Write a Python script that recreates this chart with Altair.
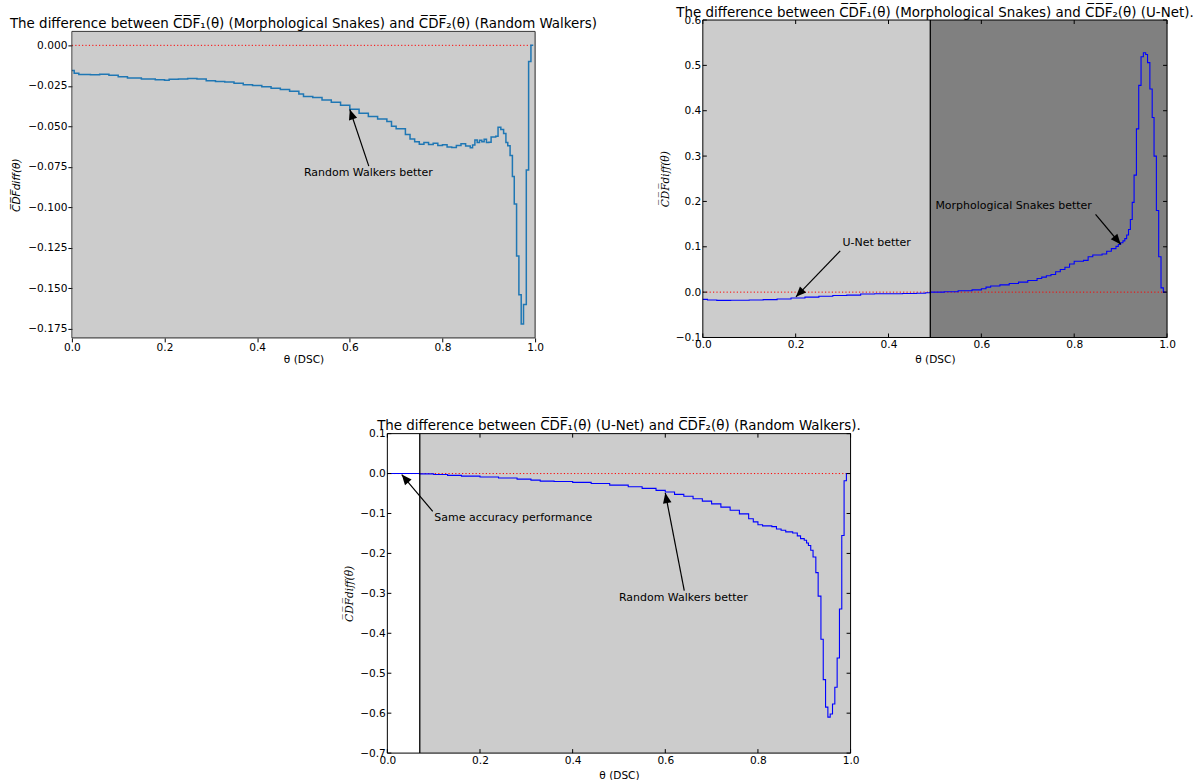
import numpy as np
import pandas as pd
import altair as alt

FONT = "DejaVu Sans"
SERIF = "DejaVu Serif"

# ---------------- data ----------------
# Panel A: Morphological Snakes vs Random Walkers
a_theta = [0.000, 0.005, 0.015, 0.040, 0.060, 0.080, 0.100, 0.120, 0.150, 0.180,
           0.200, 0.210, 0.230, 0.250, 0.270, 0.290, 0.310, 0.330, 0.350, 0.370,
           0.390, 0.410, 0.430, 0.450, 0.470, 0.490, 0.500, 0.520, 0.540, 0.560,
           0.580, 0.600, 0.620, 0.640, 0.660, 0.680, 0.690, 0.700, 0.720, 0.730,
           0.740, 0.750, 0.760, 0.770, 0.780, 0.790, 0.800, 0.810, 0.820, 0.830,
           0.840, 0.850, 0.860, 0.865, 0.870, 0.875, 0.880, 0.885, 0.890, 0.895,
           0.900, 0.905, 0.915, 0.920, 0.926, 0.932, 0.937, 0.941, 0.946, 0.951,
           0.955, 0.960, 0.965, 0.970, 0.975, 0.981, 0.986, 0.991, 0.996]
a_diff = [-0.0155, -0.0172, -0.0180, -0.0182, -0.0178, -0.0185, -0.0194, -0.0202, -0.0208, -0.0212,
          -0.0215, -0.0210, -0.0208, -0.0205, -0.0208, -0.0218, -0.0224, -0.0226, -0.0234, -0.0244,
          -0.0248, -0.0256, -0.0265, -0.0272, -0.0284, -0.0300, -0.0316, -0.0322, -0.0338, -0.0352,
          -0.0370, -0.0395, -0.0420, -0.0440, -0.0455, -0.0470, -0.0500, -0.0515, -0.0550, -0.0578,
          -0.0595, -0.0610, -0.0600, -0.0612, -0.0604, -0.0618, -0.0614, -0.0628, -0.0630, -0.0618,
          -0.0608, -0.0622, -0.0632, -0.0616, -0.0585, -0.0600, -0.0586, -0.0595, -0.0580, -0.0600,
          -0.0598, -0.0566, -0.0562, -0.0506, -0.0520, -0.0545, -0.0600, -0.0620, -0.0680, -0.0810,
          -0.0980, -0.1300, -0.1540, -0.1720, -0.1600, -0.0770, -0.0100, 0.0000, 0.0000]

# Panel B: Morphological Snakes vs U-Net
b_theta = [0.000, 0.010, 0.030, 0.060, 0.100, 0.130, 0.160, 0.190, 0.220, 0.250,
           0.280, 0.310, 0.340, 0.370, 0.400, 0.430, 0.460, 0.480, 0.490, 0.520,
           0.550, 0.580, 0.600, 0.610, 0.620, 0.640, 0.660, 0.680, 0.700, 0.720,
           0.730, 0.740, 0.750, 0.760, 0.770, 0.780, 0.790, 0.800, 0.820, 0.830,
           0.840, 0.860, 0.870, 0.880, 0.890, 0.895, 0.900, 0.905, 0.909, 0.913,
           0.917, 0.921, 0.925, 0.929, 0.934, 0.939, 0.944, 0.949, 0.954, 0.958,
           0.963, 0.968, 0.972, 0.977, 0.982, 0.987, 0.992, 0.997]
b_diff = [-0.0160, -0.0175, -0.0182, -0.0180, -0.0172, -0.0165, -0.0150, -0.0128, -0.0110, -0.0092,
          -0.0075, -0.0065, -0.0040, -0.0036, -0.0034, -0.0030, -0.0024, -0.0012, 0.0000, 0.0010,
          0.0030, 0.0050, 0.0075, 0.0110, 0.0135, 0.0160, 0.0190, 0.0220, 0.0255, 0.0300,
          0.0330, 0.0360, 0.0390, 0.0450, 0.0500, 0.0550, 0.0620, 0.0680, 0.0700, 0.0780,
          0.0820, 0.0840, 0.0900, 0.0960, 0.1010, 0.1050, 0.1090, 0.1130, 0.1180, 0.1260,
          0.1380, 0.1600, 0.1980, 0.2580, 0.3600, 0.4560, 0.5190, 0.5280, 0.5240, 0.5060,
          0.4480, 0.3850, 0.3000, 0.1800, 0.0780, 0.0095, 0.0000, 0.0000]

# Panel C: U-Net vs Random Walkers
c_theta = [0.000, 0.070, 0.100, 0.130, 0.160, 0.200, 0.240, 0.280, 0.310, 0.330,
           0.360, 0.400, 0.440, 0.480, 0.520, 0.550, 0.580, 0.600, 0.620, 0.640,
           0.660, 0.680, 0.700, 0.720, 0.740, 0.760, 0.780, 0.790, 0.800, 0.810,
           0.830, 0.840, 0.850, 0.860, 0.875, 0.885, 0.892, 0.900, 0.905, 0.909,
           0.914, 0.919, 0.925, 0.930, 0.936, 0.941, 0.946, 0.951, 0.956, 0.961,
           0.966, 0.971, 0.976, 0.981, 0.986, 0.991, 0.996]
c_diff = [0.0000, -0.0008, -0.0025, -0.0045, -0.0065, -0.0085, -0.0110, -0.0140, -0.0165, -0.0190,
          -0.0200, -0.0220, -0.0250, -0.0290, -0.0330, -0.0370, -0.0420, -0.0460, -0.0520, -0.0570,
          -0.0630, -0.0690, -0.0760, -0.0840, -0.0920, -0.1010, -0.1130, -0.1210, -0.1280, -0.1310,
          -0.1330, -0.1390, -0.1420, -0.1460, -0.1490, -0.1560, -0.1630, -0.1670, -0.1740, -0.1800,
          -0.1920, -0.2090, -0.2480, -0.3070, -0.4150, -0.5160, -0.5850, -0.6100, -0.6020, -0.5770,
          -0.5350, -0.4620, -0.3390, -0.1550, -0.0180, 0.0000, 0.0000]

x_ticks = [0.0, 0.2, 0.4, 0.6, 0.8, 1.0]
a_y_ticks = [0.0, -0.025, -0.05, -0.075, -0.1, -0.125, -0.15, -0.175]
b_y_ticks = [-0.1, 0.0, 0.1, 0.2, 0.3, 0.4, 0.5, 0.6]
c_y_ticks = [-0.7, -0.6, -0.5, -0.4, -0.3, -0.2, -0.1, 0.0, 0.1]

x_domain = [0.0, 1.0]
a_y_domain = [-0.1806, 0.0086]
b_y_domain = [-0.1, 0.6]
c_y_domain = [-0.7, 0.1]

b_split = [0.49]   # U-Net better | Morphological Snakes better
c_split = [0.07]   # same accuracy | Random Walkers better

a_title = "The difference between C\u0305D\u0305F\u0305\u2081(\u03b8) (Morphological Snakes) and C\u0305D\u0305F\u0305\u2082(\u03b8) (Random Walkers)"
b_title = "The difference between C\u0305D\u0305F\u0305\u2081(\u03b8) (Morphological Snakes) and C\u0305D\u0305F\u0305\u2082(\u03b8) (U-Net)."
c_title = "The difference between C\u0305D\u0305F\u0305\u2081(\u03b8) (U-Net) and C\u0305D\u0305F\u0305\u2082(\u03b8) (Random Walkers)."
x_title = "\u03b8 (DSC)"
y_title = "C\u0305D\u0305F\u0305diff(\u03b8)"

# annotations: label, text x/y (left edge, middle), arrow tail x/y, arrow tip x/y
a_ann_label = ["Random Walkers better"]
a_ann_text_x = [0.501]
a_ann_text_y = [-0.0788]
a_ann_tail_x = [0.641]
a_ann_tail_y = [-0.0746]
a_ann_tip_x = [0.600]
a_ann_tip_y = [-0.0396]

b_ann_label = ["U-Net better", "Morphological Snakes better"]
b_ann_text_x = [0.301, 0.501]
b_ann_text_y = [0.1085, 0.190]
b_ann_tail_x = [0.296, 0.846]
b_ann_tail_y = [0.091, 0.1716]
b_ann_tip_x = [0.2006, 0.900]
b_ann_tip_y = [-0.0103, 0.1056]

c_ann_label = ["Same accuracy performance", "Random Walkers better"]
c_ann_text_x = [0.1015, 0.500]
c_ann_text_y = [-0.1123, -0.312]
c_ann_tail_x = [0.098, 0.641]
c_ann_tail_y = [-0.0947, -0.293]
c_ann_tip_x = [0.031, 0.600]
c_ann_tip_y = [-0.0025, -0.0486]

# ---------------- helpers ----------------
ARROW_HEAD = "M0,0L-0.42,1L0.42,1Z"
TICK_LEN = 4
TITLE_SIZE = 13.45


def axes(yfmt, yticks, ytitle_font, classic):
    common = dict(domain=False, grid=False, labelFont=FONT, labelFontSize=10.6,
                  labelColor="black", labelFlush=False, labelOverlap=False,
                  titleFont=FONT, titleFontSize=10.6, titleFontWeight="normal",
                  titleColor="black")
    if classic:
        xt = dict(ticks=False, labelPadding=2.5, titlePadding=4)
        yt = dict(ticks=False, labelPadding=2, titlePadding=5)
    else:
        xt = dict(ticks=True, tickSize=4, tickColor="black", tickWidth=1,
                  labelPadding=0.5, titlePadding=1.5)
        yt = dict(ticks=True, tickSize=4, tickColor="black", tickWidth=1,
                  labelPadding=1, titlePadding=6)
    xax = alt.Axis(values=x_ticks, format=".1f", title=x_title, **xt, **common)
    yopts = dict(common)
    yopts["titleFont"] = ytitle_font
    yax = alt.Axis(values=yticks, format=yfmt, title=y_title,
                   titleFontStyle="italic", **yt, **yopts)
    return xax, yax


def panel(theta, diff, W, H, ydom, yticks, yfmt, line_color, line_width,
          classic, title, title_offset, ytitle_font, frame_color, labels, tx, ty,
          ax, ay, px, py, regions, split, hline_full, base_fill):
    xs = alt.Scale(domain=x_domain, nice=False, zero=False)
    ys = alt.Scale(domain=ydom, nice=False, zero=False)
    XAX, YAX = axes(yfmt, yticks, ytitle_font, classic)

    def X(f):
        return alt.X(f, type="quantitative", scale=xs, axis=XAX)

    def Y(f):
        return alt.Y(f, type="quantitative", scale=ys, axis=YAX)

    layers = []
    # background regions
    for (x0, x1, col) in regions:
        rdf = pd.DataFrame({"x0": [x0], "x1": [x1]})
        layers.append(alt.Chart(rdf).mark_rect(color=col, opacity=1).encode(
            x=X("x0"), x2="x1", y=alt.value(0), y2=alt.value(H)))

    # zero reference line
    if hline_full:
        hx = [x_domain[0], x_domain[1]]
    else:
        hx = [theta[0], theta[-1]]
    hdf = pd.DataFrame({"x0": [hx[0]], "x1": [hx[1]], "y0": [0.0]})
    layers.append(alt.Chart(hdf).mark_rule(color="#ff0000", strokeWidth=1,
                                           strokeDash=[1.2, 2.2]).encode(
        x=X("x0"), x2="x1", y=Y("y0")))

    # the step curve
    df = pd.DataFrame({"theta": theta, "diff": diff})
    layers.append(alt.Chart(df).mark_line(interpolate="step-after", color=line_color,
                                          strokeWidth=line_width).encode(
        x=X("theta"), y=Y("diff")))

    # vertical split line
    if split:
        sdf = pd.DataFrame({"s": split})
        layers.append(alt.Chart(sdf).mark_rule(color="black", strokeWidth=1.3).encode(
            x=X("s"), y=alt.value(0), y2=alt.value(H)))

    # inward ticks (classic style) on all four sides
    if classic:
        txdf = pd.DataFrame({"t": x_ticks})
        tydf = pd.DataFrame({"t": yticks})
        layers.append(alt.Chart(txdf).mark_rule(color="black", strokeWidth=1).encode(
            x=X("t"), y=alt.value(H), y2=alt.value(H - TICK_LEN)))
        layers.append(alt.Chart(txdf).mark_rule(color="black", strokeWidth=1).encode(
            x=X("t"), y=alt.value(0), y2=alt.value(TICK_LEN)))
        layers.append(alt.Chart(tydf).mark_rule(color="black", strokeWidth=1).encode(
            y=Y("t"), x=alt.value(0), x2=alt.value(TICK_LEN)))
        layers.append(alt.Chart(tydf).mark_rule(color="black", strokeWidth=1).encode(
            y=Y("t"), x=alt.value(W), x2=alt.value(W - TICK_LEN)))

    # frame (spines)
    fdf = pd.DataFrame({"k": [0]})
    layers.append(alt.Chart(fdf).mark_rect(fillOpacity=0, stroke=frame_color,
                                           strokeWidth=1).encode(
        x=alt.value(0), x2=alt.value(W), y=alt.value(0), y2=alt.value(H)))

    # annotations
    adf = pd.DataFrame({"label": labels, "tx": tx, "ty": ty, "ax": ax, "ay": ay,
                        "px": px, "py": py})
    dxp = (adf["px"] - adf["ax"]) * W / (x_domain[1] - x_domain[0])
    dyp = -(adf["py"] - adf["ay"]) * H / (ydom[1] - ydom[0])
    adf["ang"] = (np.degrees(np.arctan2(dxp, -dyp)) + 360.0) % 360.0
    layers.append(alt.Chart(adf).mark_rule(color="black", strokeWidth=1.2).encode(
        x=X("ax"), y=Y("ay"), x2="px", y2="py"))
    layers.append(alt.Chart(adf).mark_point(shape=ARROW_HEAD, filled=True, size=420,
                                            color="black", opacity=1, strokeWidth=0).encode(
        x=X("px"), y=Y("py"), angle=alt.Angle("ang:Q", scale=None)))
    layers.append(alt.Chart(adf).mark_text(font=FONT, fontSize=11, color="black",
                                           align="left", baseline="middle").encode(
        x=X("tx"), y=Y("ty"), text="label:N"))

    return alt.layer(*layers).properties(
        width=W, height=H,
        title=alt.TitleParams(text=title, font=FONT, fontSize=TITLE_SIZE, fontWeight="normal",
                              color="black", anchor="middle", baseline="alphabetic",
                              offset=title_offset),
        view=alt.ViewBackground(fill=base_fill, stroke="transparent"))


chart_a = panel(a_theta, a_diff, 464, 307, a_y_domain, a_y_ticks, ".3f", "#1f77b4", 1.5,
                False, a_title, -10.5, FONT, "#333333", a_ann_label, a_ann_text_x,
                a_ann_text_y, a_ann_tail_x, a_ann_tail_y, a_ann_tip_x, a_ann_tip_y,
                [], [], False, "#cccccc")

chart_b = panel(b_theta, b_diff, 465, 318, b_y_domain, b_y_ticks, ".1f", "#0000ff", 1.1,
                True, b_title, -15.0, SERIF, "black", b_ann_label, b_ann_text_x,
                b_ann_text_y, b_ann_tail_x, b_ann_tail_y, b_ann_tip_x, b_ann_tip_y,
                [(x_domain[0], b_split[0], "#cccccc"), (b_split[0], x_domain[1], "#808080")],
                b_split, True, "#cccccc")

chart_c = panel(c_theta, c_diff, 464, 320, c_y_domain, c_y_ticks, ".1f", "#0000ff", 1.1,
                True, c_title, -15.0, SERIF, "black", c_ann_label, c_ann_text_x,
                c_ann_text_y, c_ann_tail_x, c_ann_tail_y, c_ann_tip_x, c_ann_tip_y,
                [(c_split[0], x_domain[1], "#cccccc")],
                c_split, True, "white")


def spacer():
    return alt.Chart(pd.DataFrame({"k": [0]})).mark_rect(opacity=0).encode(
        x=alt.value(0), x2=alt.value(1), y=alt.value(0), y2=alt.value(1)).properties(
        width=1, height=1, view=alt.ViewBackground(stroke="transparent", fill="transparent"))


a_col = alt.vconcat(spacer(), chart_a, spacing=12.8)
b_col = alt.vconcat(spacer(), chart_b, spacing=1.4)
top_row = alt.hconcat(a_col, b_col, spacing=61)
c_row = alt.hconcat(spacer(), chart_c, spacing=270)
chart = alt.vconcat(top_row, c_row, spacing=52.7).properties(
    padding={"left": 9, "top": 0, "right": 0, "bottom": 0},
    background="white",
).configure(font=FONT)

chart.save("out.html", embed_options={"renderer": "svg", "actions": False})
